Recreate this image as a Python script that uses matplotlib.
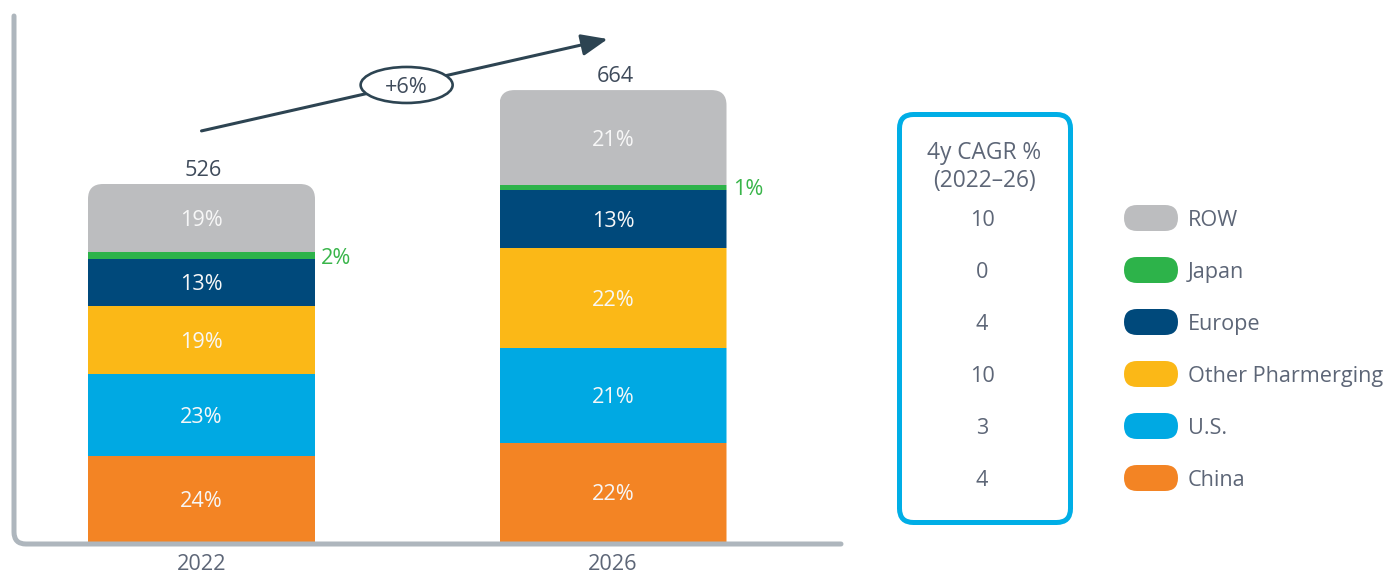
import numpy as np
import matplotlib
matplotlib.use("Agg")
import matplotlib.pyplot as plt
from matplotlib.patches import FancyBboxPatch, Ellipse, PathPatch
from matplotlib.path import Path

# data
years = ["2022", "2026"]
totals = [526, 664]
regions = ["China", "U.S.", "Other Pharmerging", "Europe", "Japan", "ROW"]
shares_2022 = [24, 23, 19, 13, 2, 19]
shares_2026 = [22, 21, 22, 13, 1, 21]
cagr = [4, 3, 10, 4, 0, 10]
growth_label = "+6%"
cagr_title = ["4y CAGR %", "(2022\u201326)"]

colors = ["#f38424", "#00a9e3", "#fbb817", "#00497b", "#2db34a", "#bcbdbf"]
text_gray = "#5d6677"
dark_text = "#3f4b5b"
slate = "#2d4452"

plt.rcParams["font.family"] = ["Open Sans", "DejaVu Sans"]
FS = 15.6
VA = "center_baseline"

W, H = 1386, 574
fig = plt.figure(figsize=(W / 100, H / 100), dpi=100)

# main bar axes, placed so that the bars land where they do in the reference
px_per_unit = 0.6806
ax_left, ax_right, ax_base, ax_top = 14, 841, 542, 16
ax = fig.add_axes([ax_left / W, (H - ax_base) / H,
                   (ax_right - ax_left) / W, (ax_base - ax_top) / H])
ax.set_ylim(0, (ax_base - ax_top) / px_per_unit)
x_per_px = 1 / 411.5
ax.set_xlim(-(201.5 - ax_left) * x_per_px, 1 + (ax_right - 613) * x_per_px)
for s in ax.spines.values():
    s.set_visible(False)
ax.set_yticks([])
ax.set_xticks([0, 1], years)
ax.tick_params(axis="x", length=0, pad=8.5, labelsize=FS, labelcolor=text_gray)

x = np.arange(len(years))
bar_w = 227 * x_per_px
shares = np.array([shares_2022, shares_2026], dtype=float)
values = shares / 100 * np.array(totals)[:, None]

# rounded top corners: clip each stack with a rounded box
clips = []
for i in range(len(years)):
    clip = FancyBboxPatch((x[i] - bar_w / 2, -100), bar_w, totals[i] + 100,
                          boxstyle="round,pad=0,rounding_size=%f" % (15 * x_per_px),
                          mutation_aspect=(1 / px_per_unit) / x_per_px,
                          transform=ax.transData, facecolor="none", edgecolor="none")
    ax.add_patch(clip)
    clips.append(clip)

bottom = np.zeros(len(years))
for j, reg in enumerate(regions):
    bars = ax.bar(x, values[:, j], bar_w, bottom=bottom, color=colors[j],
                  linewidth=0, zorder=2)
    for i, b in enumerate(bars):
        b.set_clip_path(clips[i])
        yc = bottom[i] + values[i, j] / 2
        lab = "%d%%" % shares[i, j]
        if reg == "Japan":
            ax.text(x[i] + bar_w / 2 + 0.015, yc, lab, ha="left", va=VA,
                    fontsize=FS, color="#39b54a")
        else:
            ax.text(x[i], yc, lab, ha="center", va=VA, fontsize=FS,
                    color="#f7f7f7", zorder=3)
    bottom += values[:, j]

for i, t in enumerate(totals):
    ax.text(x[i] + 0.005, t + 5, str(t), ha="center", va="bottom",
            fontsize=FS, color=dark_text)

# growth arrow with ellipse label
start = (x[0], totals[0] + 78)
end = (x[1] - 0.013, totals[1] + 75)
ax.annotate("", xy=end, xytext=start,
            arrowprops=dict(arrowstyle="-|>,head_length=0.8,head_width=0.33",
                            mutation_scale=20, color=slate, lw=2.2,
                            shrinkA=0, shrinkB=0))
mid = ((start[0] + end[0]) / 2 + 0.005, (start[1] + end[1]) / 2)
ax.add_patch(Ellipse(mid, 92 * x_per_px, 36 / px_per_unit, facecolor="white",
                     edgecolor=slate, lw=1.9, zorder=4))
ax.text(mid[0], mid[1], growth_label, ha="center", va=VA, fontsize=FS,
        color=dark_text, zorder=5)

# overlay in pixel coordinates for axis line, CAGR box and legend
ov = fig.add_axes([0, 0, 1, 1])
ov.set_xlim(0, W)
ov.set_ylim(H, 0)
ov.axis("off")

r = 12
verts = [(14, 16), (14, 544 - r), (14, 544), (14 + r, 544), (841, 544)]
codes = [Path.MOVETO, Path.LINETO, Path.CURVE3, Path.CURVE3, Path.LINETO]
ov.add_patch(PathPatch(Path(verts, codes), facecolor="none", edgecolor="#aeb6bd",
                       lw=3.6, capstyle="round", joinstyle="round"))

ov.add_patch(FancyBboxPatch((899.5, 114.5), 171, 408,
                            boxstyle="round,pad=0,rounding_size=14",
                            facecolor="white", edgecolor="#00aee6", lw=3.6))
ov.text(984, 150, cagr_title[0], ha="center", va=VA, fontsize=FS + 0.8, color=text_gray)
ov.text(984, 178, cagr_title[1], ha="center", va=VA, fontsize=FS + 0.8, color=text_gray)

row_y0, row_dy = 218, 52
order = list(range(len(regions)))[::-1]
for k, j in enumerate(order):
    y = row_y0 + k * row_dy
    ov.text(982, y, str(cagr[j]), ha="center", va=VA, fontsize=FS, color=text_gray)
    ov.add_patch(FancyBboxPatch((1124, y - 13), 54, 26,
                                boxstyle="round,pad=0,rounding_size=13",
                                facecolor=colors[j], edgecolor="none"))
    ov.text(1188, y, regions[j], ha="left", va=VA, fontsize=FS, color=text_gray)

fig.savefig("out.png", dpi=100, facecolor="white")
